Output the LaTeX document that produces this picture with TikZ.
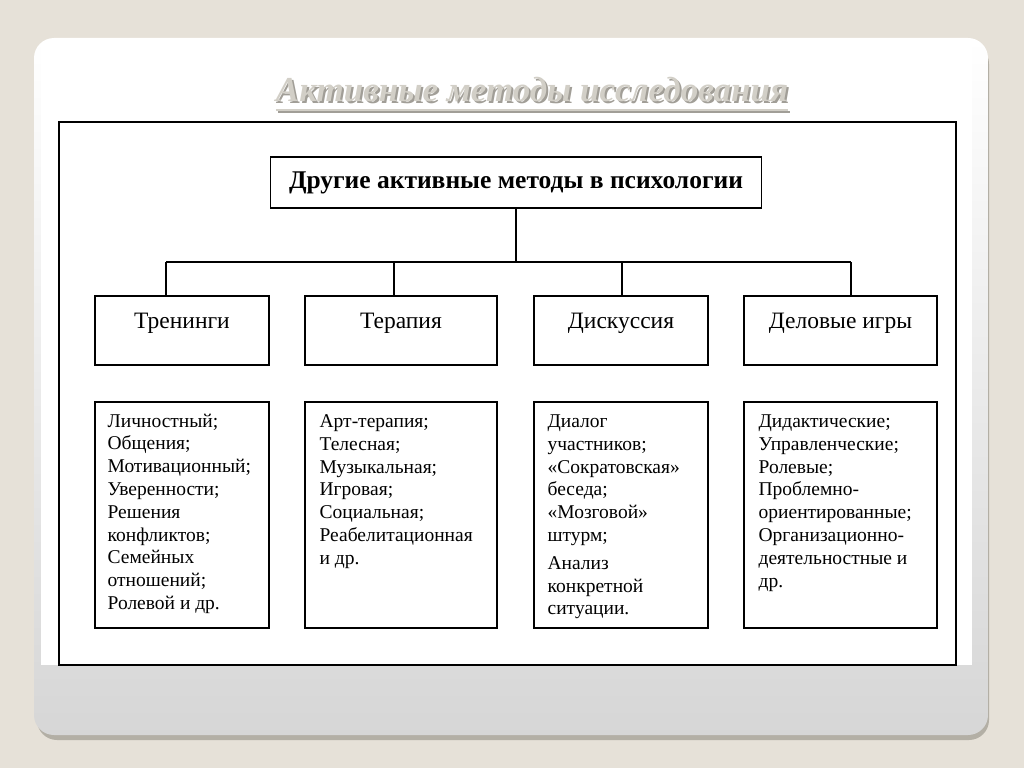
\documentclass[tikz,border=0pt]{standalone}
\usepackage{fontspec}
\setmainfont{Liberation Serif}
\usetikzlibrary{positioning}

\definecolor{pagebg}{HTML}{E6E1D8}
\definecolor{cardshadow}{HTML}{B3AFA5}
\definecolor{titlegray}{HTML}{D2CFC7}
\definecolor{titleshade}{HTML}{A19E97}

\begin{document}
\begin{tikzpicture}[x=1pt,y=-1pt,
    box/.style={draw,line width=1.1pt,inner sep=0pt},
    topbox/.style={box,minimum width=491pt,minimum height=51pt,
      font=\fontsize{25.5}{28}\selectfont\bfseries},
    headbox/.style={box,minimum height=69pt,text height=16pt,text depth=21pt,
      font=\fontsize{23.5}{26}\selectfont},
    listbox/.style={box,minimum height=226pt},
    listtext/.style={anchor=north west,inner sep=0pt,align=left,
      font=\fontsize{19.5}{22.8}\selectfont},
    titletext/.style={inner sep=0pt,font=\fontsize{35}{38}\selectfont\bfseries\itshape},
    link/.style={line width=1.1pt}]
  \useasboundingbox (0,0) rectangle (1024,768);
  \fill[pagebg] (0,0) rectangle (1024,768);

  % slide card
  \fill[cardshadow,rounded corners=20pt] (37,44) rectangle (989,740);
  \shade[rounded corners=20pt,top color=white,bottom color=gray!32] (34,38) rectangle (988,735);
  \fill[white] (41,45) rectangle (972,665);

  % title
  \node[titletext,text=titleshade] (titleshadow) at (534,92) {Активные методы исследования};
  \node[titletext,text=titlegray] (title) at (532,90) {Активные методы исследования};
  \draw[titleshade,line width=2pt] ([yshift=-8pt]titleshadow.base west) -- ([yshift=-8pt]titleshadow.base east);
  \draw[titlegray,line width=2pt] ([yshift=-8pt]title.base west) -- ([yshift=-8pt]title.base east);

  \draw[line width=1.1pt] (59,122) rectangle (956,665);

  % tree
  \node[topbox] (root) at (516,182.5) {Другие активные методы в психологии};

  \node[headbox,minimum width=174pt] (train) at (182,330.5) {Тренинги};
  \node[headbox,minimum width=192pt] (ther) at (401,330.5) {Терапия};
  \node[headbox,minimum width=174pt] (disc) at (621,330.5) {Дискуссия};
  \node[headbox,minimum width=193pt] (game) at (840.5,330.5) {Деловые игры};

  \coordinate (bus) at (516,262);
  \coordinate (j1) at (166,262);
  \coordinate (j2) at (394,262);
  \coordinate (j3) at (622,262);
  \coordinate (j4) at (851,262);
  \draw[link] (root.south) -- (bus);
  \draw[link] (j1) -- (j4);
  \draw[link] (j1) -- (j1 |- train.north);
  \draw[link] (j2) -- (j2 |- ther.north);
  \draw[link] (j3) -- (j3 |- disc.north);
  \draw[link] (j4) -- (j4 |- game.north);

  % lists
  \node[listbox,minimum width=174pt] (trainlist) at (182,515) {};
  \node[listbox,minimum width=192pt] (therlist) at (401,515) {};
  \node[listbox,minimum width=174pt] (disclist) at (621,515) {};
  \node[listbox,minimum width=193pt] (gamelist) at (840.5,515) {};

  \node[listtext] (traintext) at ([shift={(13,12)}]trainlist.north west)
    {Личностный;\\Общения;\\Мотивационный;\\Уверенности;\\Решения\\конфликтов;\\Семейных\\отношений;\\Ролевой и др.};
  \node[listtext] (thertext) at ([shift={(15,13)}]therlist.north west)
    {Арт-терапия;\\Телесная;\\Музыкальная;\\Игровая;\\Социальная;\\Реабелитационная\\и др.};
  \node[listtext] (disctext) at ([shift={(14,13)}]disclist.north west)
    {Диалог\\участников;\\«Сократовская»\\беседа;\\«Мозговой»\\штурм;\\[5pt]Анализ\\конкретной\\ситуации.};
  \node[listtext] (gametext) at ([shift={(15,13)}]gamelist.north west)
    {Дидактические;\\Управленческие;\\Ролевые;\\Проблемно-\\ориентированные;\\Организационно-\\деятельностные и\\др.};
\end{tikzpicture}
\end{document}
